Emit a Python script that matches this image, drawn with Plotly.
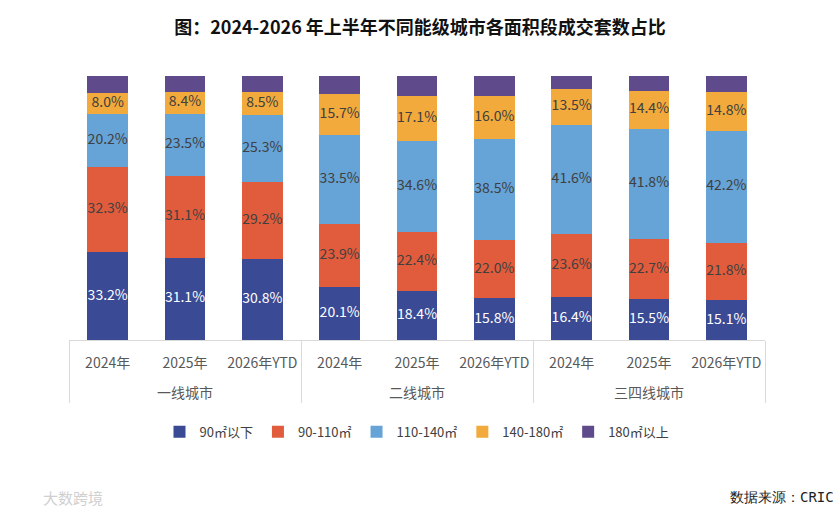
import numpy as np
import plotly.graph_objects as go

groups = ["一线城市"] * 3 + ["二线城市"] * 3 + ["三四线城市"] * 3
years = ["2024年", "2025年", "2026年YTD"] * 3
series_names = ["90㎡以下", "90-110㎡", "110-140㎡", "140-180㎡", "180㎡以上"]
s90 = [33.2, 31.1, 30.8, 20.1, 18.4, 15.8, 16.4, 15.5, 15.1]
s90_110 = [32.3, 31.1, 29.2, 23.9, 22.4, 22.0, 23.6, 22.7, 21.8]
s110_140 = [20.2, 23.5, 25.3, 33.5, 34.6, 38.5, 41.6, 41.8, 42.2]
s140_180 = [8.0, 8.4, 8.5, 15.7, 17.1, 16.0, 13.5, 14.4, 14.8]
s180 = [round(100 - a - b - c - d, 1) for a, b, c, d in zip(s90, s90_110, s110_140, s140_180)]

colors = ["#3A4A94", "#E05C3C", "#66A3D6", "#F2AA3C", "#5F4B8B"]
text_colors = ["#FFFFFF", "#404040", "#404040", "#404040", None]

data = [s90, s90_110, s110_140, s140_180, s180]
x = [["<br>" + g for g in groups], years]

fig = go.Figure()
for name, vals, col in zip(series_names, data, colors):
    fig.add_trace(go.Bar(x=x, y=vals, name=name, marker=dict(color=col, line=dict(width=0)),
                         hoverinfo="skip"))

cum = np.zeros(len(s90))
for vals, tc in zip(data, text_colors):
    v = np.array(vals)
    mid = cum + v / 2
    cum = cum + v
    if tc is None:
        continue
    fig.add_trace(go.Scatter(x=x, y=mid, mode="text", text=[f"{t:.1f}%" for t in vals],
                             textfont=dict(color=tc, size=14, family="Noto Sans CJK SC"),
                             showlegend=False, hoverinfo="skip"))

fig.update_layout(
    barmode="stack",
    bargap=0.47,
    width=840, height=519,
    margin=dict(l=69, r=75, t=76, b=179),
    plot_bgcolor="white", paper_bgcolor="white",
    font=dict(family="Noto Sans CJK SC", color="#595959", size=13),
    title=dict(text="<b>图：2024-2026 年上半年不同能级城市各面积段成交套数占比</b>",
               x=0.5, xanchor="center", y=0.946, yanchor="middle",
               font=dict(size=18, color="#111111", family="Noto Sans CJK SC")),
    legend=dict(orientation="h", x=0.5, xanchor="center", y=-0.348, yanchor="middle",
                font=dict(size=13, color="#404040"), traceorder="normal"),
    showlegend=True,
)
fig.update_xaxes(type="multicategory", showline=True, linecolor="#D9D9D9", linewidth=1,
                 showdividers=True, dividercolor="#D9D9D9", dividerwidth=1,
                 tickangle=0, tickfont=dict(size=14, color="#595959"), ticks="",
                 ticklabelstandoff=10)
fig.update_yaxes(range=[0, 100], visible=False, showgrid=False, zeroline=False)

fig.add_annotation(text="数据来源：CRIC", xref="paper", yref="paper", x=1.102, y=-0.595,
                   xanchor="right", yanchor="middle", showarrow=False,
                   font=dict(size=14, color="#222222", family="DejaVu Sans Mono"))
fig.add_annotation(text="大数跨境", xref="paper", yref="paper", x=-0.04, y=-0.595,
                   xanchor="left", yanchor="middle", showarrow=False,
                   font=dict(size=15, color="#D0D0D0", family="Noto Sans CJK SC"))

fig.write_html("out.html")
